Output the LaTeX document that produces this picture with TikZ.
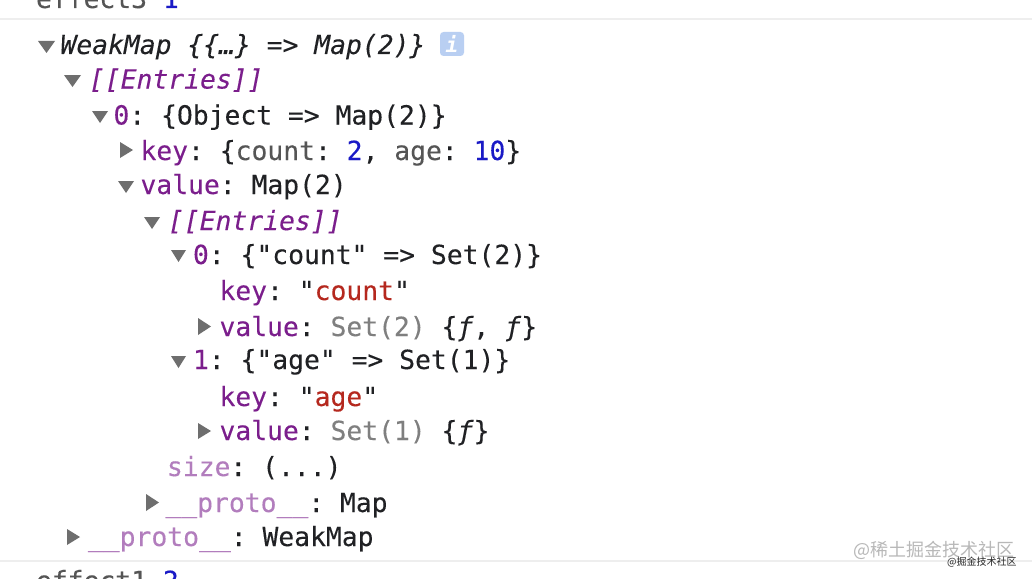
\documentclass[tikz,border=0pt]{standalone}
\usepackage{fontspec}
\setmainfont{Liberation Sans}
\setmonofont[FakeBold=0.12]{DejaVu Sans Mono}
\newfontfamily\cjk{Noto Sans CJK SC}
\newfontfamily\infofont{DejaVu Sans Mono}
\definecolor{purp}{HTML}{7B1E8C}
\definecolor{lpurp}{HTML}{B27DBD}
\definecolor{ink}{HTML}{202124}
\definecolor{num}{HTML}{1A1AC6}
\definecolor{strc}{HTML}{B5281E}
\definecolor{gry}{HTML}{7F7F7F}
\definecolor{dgry}{HTML}{555555}
\definecolor{tri}{HTML}{6E6E6E}
\definecolor{sep}{HTML}{EEEEEE}
\definecolor{infob}{HTML}{B9CFF2}
\newcommand{\pk}[1]{\textcolor{purp}{#1}}
\newcommand{\lk}[1]{\textcolor{lpurp}{#1}}
\newcommand{\nm}[1]{\textcolor{num}{#1}}
\newcommand{\st}[1]{\textcolor{strc}{#1}}
\newcommand{\gy}[1]{\textcolor{gry}{#1}}
\newcommand{\dg}[1]{\textcolor{dgry}{#1}}
\newcommand{\trid}[3]{\fill[tri] (#1,#3) -- (#2,#3) -- ({(#1+#2)/2},#3+12) -- cycle;}
\newcommand{\trir}[3]{\fill[tri] (#1,#2) -- (#1+13,{(#2+#3)/2}) -- (#1,#3) -- cycle;}
\tikzset{
  line/.style={anchor=base west,inner sep=0pt,outer sep=0pt,text=ink,font=\fontsize{26.35}{30}\selectfont\ttfamily},
  rulebar/.style={sep,line width=2pt},
}
\begin{document}
\begin{tikzpicture}[x=1pt,y=-1pt]
\useasboundingbox (0,0) rectangle (1032,578);
\clip (0,0) rectangle (1032,578);
\fill[white] (0,0) rectangle (1032,578);
\draw[rulebar] (0,19) -- (1032,19);
\draw[rulebar] (0,560.5) -- (1032,560.5);
\node[line] (top) at (36,8) {\dg{effect3} \nm{1}};
\node[line] (wm) at (60.5,54) {\itshape WeakMap \{\{…\} => Map(2)\}};
\node[line] (e1) at (89,88.5) {\itshape\pk{[[Entries]]}};
\node[line] (z1) at (113.5,124.5) {\pk{0}: \{Object => Map(2)\}};
\node[line] (k1) at (140.5,160) {\pk{key}: \{\dg{count}: \nm{2}, \dg{age}: \nm{10}\}};
\node[line] (v1) at (140.5,194) {\pk{value}: Map(2)};
\node[line] (e2) at (168,230) {\itshape\pk{[[Entries]]}};
\node[line] (z2) at (193,264) {\pk{0}: \{"count" => Set(2)\}};
\node[line] (k2) at (219.5,300) {\pk{key}: "\st{count}"};
\node[line] (v2) at (219.5,336) {\pk{value}: \gy{Set(2)} \{\textit{ƒ}, \textit{ƒ}\}};
\node[line] (o2) at (193,369) {\pk{1}: \{"age" => Set(1)\}};
\node[line] (k3) at (219.5,406) {\pk{key}: "\st{age}"};
\node[line] (v3) at (219.5,440) {\pk{value}: \gy{Set(1)} \{\textit{ƒ}\}};
\node[line] (sz) at (167,476) {\lk{size}: (...)};
\node[line] (p1) at (165.5,512) {\lk{\_\_proto\_\_}: Map};
\node[line] (p2) at (88,546) {\lk{\_\_proto\_\_}: WeakMap};
\node[line] (bot) at (36,590) {\dg{effect1} \nm{2}};
\trid{38}{55}{41}
\trid{64}{81}{75}
\trid{92}{108}{111}
\trir{120}{142}{158}
\trid{118}{134}{181}
\trid{144}{160}{217}
\trid{171}{186}{250}
\trir{198}{318}{335}
\trid{171}{186}{356}
\trir{198}{423}{439}
\trir{146}{494}{511}
\trir{67}{529}{545}
\fill[infob,rounded corners=3.5pt] (440,32) rectangle (464,56);
\node[anchor=center,inner sep=0pt,text=white,font=\fontsize{21}{21}\selectfont\infofont\bfseries\itshape] (info) at (452,44) {i};
\node[anchor=base west,inner sep=0pt,text=black!28,font=\fontsize{18}{20}\selectfont\cjk] (wm1) at (853,556) {@稀土掘金技术社区};
\node[anchor=base west,inner sep=0pt,text=black!85,font=\fontsize{10}{12}\selectfont\cjk] (wm2) at (947,565) {@掘金技术社区};
\end{tikzpicture}
\end{document}
